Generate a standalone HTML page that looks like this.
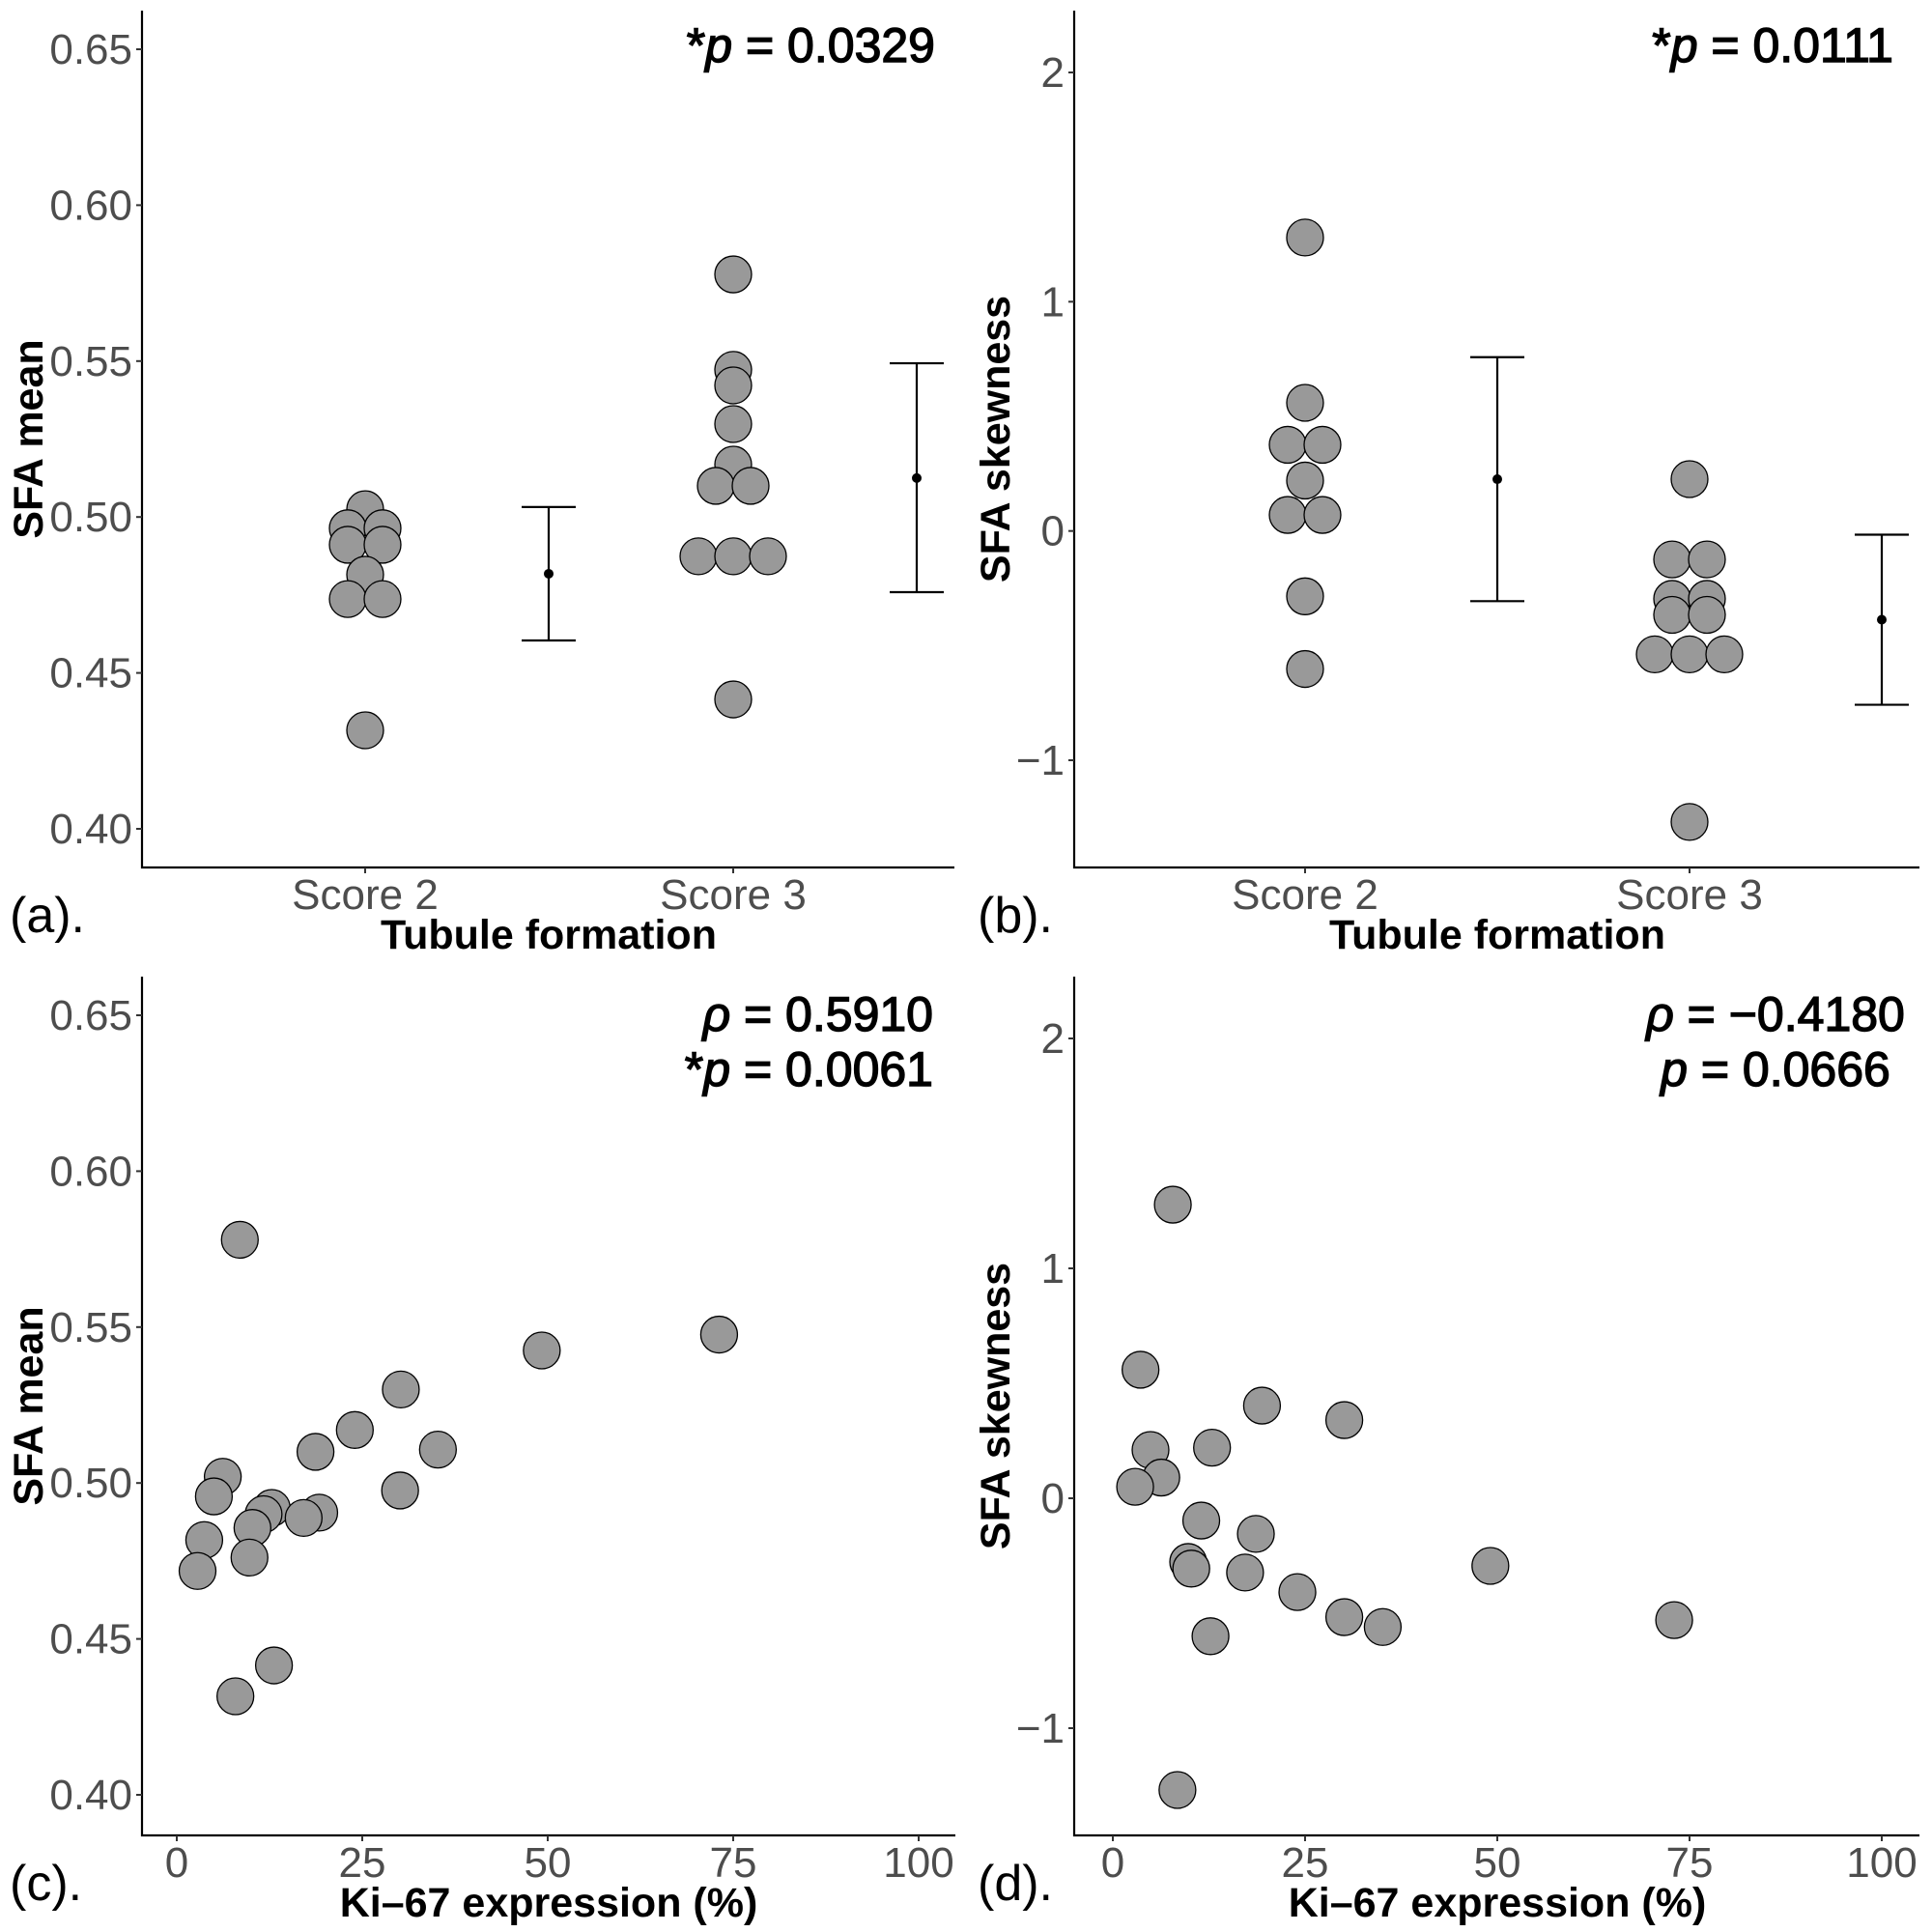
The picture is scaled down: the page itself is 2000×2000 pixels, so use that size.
<!DOCTYPE html>
<html><head><meta charset="utf-8"><style>
html,body{margin:0;padding:0;background:#fff}
svg{display:block}
text{font-family:"Liberation Sans",Arial,sans-serif}
.tick{fill:#4d4d4d;font-size:44px}
.ttl{font-weight:bold;font-size:43px;fill:#000}
.ann{font-size:50px;fill:#000;stroke:#000;stroke-width:1.4px}
.plab{font-size:52px;fill:#000}
</style></head><body>
<svg id="fig" width="2000" height="2000" viewBox="0 0 2000 2000" xmlns="http://www.w3.org/2000/svg"></svg>
<script>
// ---- data ----
const groups = ["Score 2", "Score 3"];
const aScore2 = [0.5025, 0.4964, 0.4964, 0.4911, 0.4911, 0.4815, 0.4737, 0.4737, 0.4316];
const aScore3 = [0.5778, 0.5472, 0.5422, 0.5298, 0.5168, 0.5100, 0.5100, 0.4874, 0.4874, 0.4874, 0.4415];
const aMean = [0.4818, 0.5125];
const aLow = [0.4604, 0.4759];
const aHigh = [0.5032, 0.5493];
const bScore2 = [1.28, 0.559, 0.376, 0.376, 0.22, 0.07, 0.07, -0.285, -0.602];
const bScore3 = [0.226, -0.124, -0.124, -0.296, -0.296, -0.366, -0.366, -0.538, -0.538, -0.538, -1.269];
const bMean = [0.226, -0.387];
const bLow = [-0.306, -0.758];
const bHigh = [0.758, -0.016];
const ki67 = [8.5, 73.1, 49.2, 30.2, 24.0, 18.7, 35.2, 6.2, 30.1, 5.0, 12.8, 11.7, 19.2, 17.1, 10.2, 3.7, 9.8, 2.8, 13.1, 7.9];
const cMean = [0.578, 0.5476, 0.5425, 0.530, 0.517, 0.510, 0.5107, 0.502, 0.4976, 0.4957, 0.492, 0.490, 0.4905, 0.4888, 0.4856, 0.4817, 0.4761, 0.4718, 0.4415, 0.4316];
const dKi67 = [7.8, 3.6, 19.4, 30.1, 4.9, 12.9, 6.3, 2.9, 11.5, 18.6, 9.8, 10.2, 17.2, 49.1, 24.0, 30.1, 35.1, 73.0, 12.7, 8.4];
const dSkew = [1.277, 0.559, 0.403, 0.34, 0.21, 0.22, 0.09, 0.05, -0.097, -0.155, -0.277, -0.306, -0.323, -0.294, -0.408, -0.517, -0.56, -0.53, -0.60, -1.269];
const meanTicks = [0.40, 0.45, 0.50, 0.55, 0.60, 0.65];
const meanTickLabels = ["0.40", "0.45", "0.50", "0.55", "0.60", "0.65"];
const skewTicks = [-1, 0, 1, 2];
const skewTickLabels = ["\u22121", "0", "1", "2"];
const kiTicks = [0, 25, 50, 75, 100];
const kiTickLabels = ["0", "25", "50", "75", "100"];

const NS = "http://www.w3.org/2000/svg";
const svg = document.getElementById("fig");
function mk(tag, attrs, parent, txt){
  const e = document.createElementNS(NS, tag);
  for (const k in attrs) e.setAttribute(k, attrs[k]);
  if (txt !== undefined) e.textContent = txt;
  (parent || svg).appendChild(e);
  return e;
}
const R = 19;

function panel(cfg){
  const g = mk("g", {});
  
  
  const y = v => cfg.y0 + (v - cfg.v0) * (cfg.y1 - cfg.y0) / (cfg.v1 - cfg.v0);
  const ax = mk("path", {d:`M${cfg.L} ${cfg.T} V${cfg.B} H${cfg.Rt}`, stroke:"#000", "stroke-width":2.2, fill:"none"}, g);
  
  
  cfg.yt.forEach((t, i) => {
    mk("line", {x1:cfg.L-6, x2:cfg.L, y1:y(t), y2:y(t), stroke:"#333", "stroke-width":2}, g);
    const tl = mk("text", {x:cfg.L-10, y:y(t)+15, "text-anchor":"end", class:"tick"}, g, cfg.ytl[i]);
    
    
  });
  cfg.xt.forEach((t, i) => {
    const xx = cfg.x(t);
    mk("line", {x1:xx, x2:xx, y1:cfg.B, y2:cfg.B+6, stroke:"#333", "stroke-width":2}, g);
    const tl = mk("text", {x:xx, y:cfg.B+43, "text-anchor":"middle", class:"tick"}, g, cfg.xtl[i]);
    
    
  });
  const xt = mk("text", {x:cfg.xtx, y:cfg.B+84, "text-anchor":"middle", class:"ttl"}, g, cfg.xtitle);
  
  
  const yc = (cfg.T + cfg.B) / 2;
  const yt = mk("text", {x:cfg.ytx, y:yc, "text-anchor":"middle", class:"ttl", transform:`rotate(-90 ${cfg.ytx} ${yc})`, dy:"15"}, g, cfg.ytitle);
  
  
  const pl = mk("text", {x:cfg.plx, y:cfg.B+67, class:"plab"}, g, cfg.plab);
  
  
  cfg.pts.forEach(p => {
    const c = mk("circle", {cx:p[0], cy:y(p[1]), r:R, fill:"#999999", stroke:"#000", "stroke-width":1.3}, g);
    
    
  });
  if (cfg.eb) cfg.eb.forEach(e => {
    const eg = mk("g", {stroke:"#000", "stroke-width":2.2}, g);
    
    
    mk("line", {x1:e.x, x2:e.x, y1:y(e.lo), y2:y(e.hi)}, eg);
    mk("line", {x1:e.x-28, x2:e.x+28, y1:y(e.lo), y2:y(e.lo)}, eg);
    mk("line", {x1:e.x-28, x2:e.x+28, y1:y(e.hi), y2:y(e.hi)}, eg);
    mk("circle", {cx:e.x, cy:y(e.m), r:5, fill:"#000", stroke:"none"}, eg);
  });
  cfg.ann.forEach(a => {
    const t = mk("text", {x:a.x, y:a.y, "text-anchor":a.anchor, class:"ann"}, g);
    
    
    a.parts.forEach(pt => mk("tspan", pt[1] ? {"font-style":"italic"} : {}, t, pt[0]));
  });
}

function swarm(vals, cx){
  const out = [];
  let i = 0;
  while (i < vals.length){
    let j = i; while (j < vals.length && vals[j] === vals[i]) j++;
    const n = j - i;
    for (let k = 0; k < n; k++) out.push([cx + (k - (n-1)/2) * 36, vals[i]]);
    i = j;
  }
  return out;
}

(function(){
  const gx = [378, 759];
  panel({name:"panel-a", L:147, Rt:988, T:11, B:898, v0:0.65, y0:51, v1:0.40, y1:858,
    yt:meanTicks, ytl:meanTickLabels, xt:[0,1], xtl:groups, x:i=>gx[i],
    xtitle:"Tubule formation", xtx:568, ytitle:"SFA mean", ytx:29, plab:"(a).", plx:10,
    pts: swarm(aScore2, gx[0]).concat(swarm(aScore3, gx[1])),
    eb: [0,1].map(i => ({x:gx[i]+190, m:aMean[i], lo:aLow[i], hi:aHigh[i]})),
    ann:[{x:968, y:64, anchor:"end", parts:[["*",0],["p",1],[" = 0.0329",0]]}]});
})();
(function(){
  const gx = [1351, 1749];
  panel({name:"panel-b", L:1112, Rt:1987, T:11, B:898, v0:2, y0:75, v1:-1, y1:787,
    yt:skewTicks, ytl:skewTickLabels, xt:[0,1], xtl:groups, x:i=>gx[i],
    xtitle:"Tubule formation", xtx:1550, ytitle:"SFA skewness", ytx:1030, plab:"(b).", plx:1012,
    pts: swarm(bScore2, gx[0]).concat(swarm(bScore3, gx[1])),
    eb: [0,1].map(i => ({x:gx[i]+199, m:bMean[i], lo:bLow[i], hi:bHigh[i]})),
    ann:[{x:1960, y:64, anchor:"end", parts:[["*",0],["p",1],[" = 0.0111",0]]}]});
})();
(function(){
  const x = v => 183 + v * 7.68;
  panel({name:"panel-c", L:147, Rt:989, T:1011, B:1900, v0:0.65, y0:1051, v1:0.40, y1:1858,
    yt:meanTicks, ytl:meanTickLabels, xt:kiTicks, xtl:kiTickLabels, x:x,
    xtitle:"Ki\u201367 expression (%)", xtx:568, ytitle:"SFA mean", ytx:29, plab:"(c).", plx:10,
    pts: ki67.map((k, i) => [x(k), cMean[i]]),
    ann:[{x:966, y:1067, anchor:"end", parts:[["\u03c1",1],[" = 0.5910",0]]},
         {x:966, y:1124, anchor:"end", parts:[["*",0],["p",1],[" = 0.0061",0]]}]});
})();
(function(){
  const x = v => 1152 + v * 7.96;
  panel({name:"panel-d", L:1112, Rt:1987, T:1011, B:1900, v0:2, y0:1075, v1:-1, y1:1789,
    yt:skewTicks, ytl:skewTickLabels, xt:kiTicks, xtl:kiTickLabels, x:x,
    xtitle:"Ki\u201367 expression (%)", xtx:1550, ytitle:"SFA skewness", ytx:1030, plab:"(d).", plx:1012,
    pts: dKi67.map((k, i) => [x(k), dSkew[i]]),
    ann:[{x:1838, y:1067, anchor:"middle", parts:[["\u03c1",1],[" = \u22120.4180",0]]},
         {x:1838, y:1124, anchor:"middle", parts:[["p",1],[" = 0.0666",0]]}]});
})();
</script>
</body></html>
